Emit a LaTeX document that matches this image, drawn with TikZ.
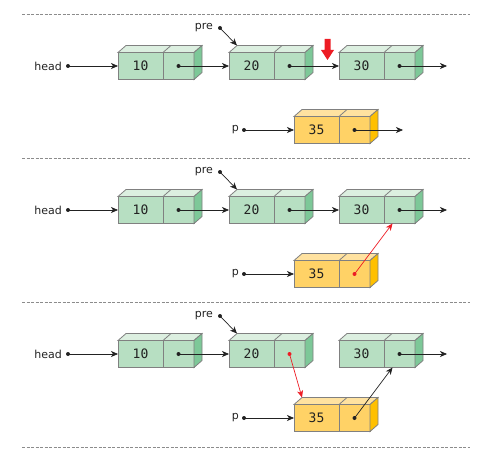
\documentclass[tikz,border=0pt]{standalone}
\usepackage{fontspec}
\setmainfont{DejaVu Sans}
\setmonofont{DejaVu Sans Mono}
\usetikzlibrary{positioning,arrows.meta}

\definecolor{gfront}{RGB}{183,223,194}
\definecolor{gtop}{RGB}{220,239,224}
\definecolor{gside}{RGB}{125,200,152}
\definecolor{yfront}{RGB}{255,210,102}
\definecolor{ytop}{RGB}{255,226,160}
\definecolor{yside}{RGB}{255,192,0}
\definecolor{hot}{RGB}{237,28,36}
\definecolor{ink}{RGB}{34,34,34}

\tikzset{
  face/.style={draw=black!50,line width=0.8bp},
  valcell/.style={face,minimum width=45bp,minimum height=27bp,inner sep=0pt,outer sep=0pt,
    font=\ttfamily\fontsize{13bp}{15bp}\selectfont,text=ink},
  ptrcell/.style={face,minimum width=31bp,minimum height=27bp,inner sep=0pt,outer sep=0pt},
  lbl/.style={font=\fontsize{11bp}{13bp}\selectfont,text=ink,inner sep=0pt},
  link/.style={-{Stealth[length=7bp,width=6bp,inset=2bp]},draw=ink,line width=0.7bp},
  hotlink/.style={-{Stealth[length=7bp,width=6bp,inset=2bp]},draw=hot,line width=0.7bp},
  sep/.style={draw=black!45,line width=0.6bp,dash pattern=on 3bp off 1.5bp}
}

% one list element: key, x, y, value, colour prefix
\newcommand{\listbox}[5]{%
  \node[valcell,fill=#5front,anchor=west] (val#1) at (#2,#3) {#4};
  \node[ptrcell,fill=#5front,anchor=west] (ptr#1) at (val#1.east) {};
  \filldraw[face,fill=#5top] (val#1.north west) -- ++(8,-7) -- ([shift={(8,-7)}]ptr#1.north east) -- (ptr#1.north east) -- cycle;
  \draw[face] (ptr#1.north west) -- ++(8,-7);
  \filldraw[face,fill=#5side] (ptr#1.north east) -- ++(8,-7) -- ++(0,27) -- (ptr#1.south east) -- cycle;
}

\begin{document}
\begin{tikzpicture}[x=1bp,y=-1bp]
  \useasboundingbox (0,0) rectangle (491,461);

  % separators
  \foreach \y in {14,158,302,447}
    \draw[sep] (22,\y) -- (470,\y);

  % the three steps
  \foreach \k/\off in {1/0,2/144,3/288} {
    \listbox{10-\k}{118}{66+\off}{10}{g}
    \listbox{20-\k}{229}{66+\off}{20}{g}
    \listbox{30-\k}{339}{66+\off}{30}{g}
    \listbox{35-\k}{294}{130+\off}{35}{y}

    % head, pre, p
    \node[lbl,anchor=east] (head-\k) at (62,66+\off) {head};
    \coordinate (hd-\k) at (68,66+\off);
    \node[lbl,anchor=east] (pre-\k) at (213,28+\off) {pre};
    \coordinate (pr-\k) at (220,28+\off);
    \node[lbl,anchor=east] (p-\k) at (239,130+\off) {p};
    \coordinate (pp-\k) at (244,130+\off);
    \coordinate (end-\k) at (447,66+\off);

    \fill[ink] (hd-\k) circle (2bp) (pr-\k) circle (2bp) (pp-\k) circle (2bp);
    \draw[link] (hd-\k) -- (val10-\k.west);
    \draw[link] (pr-\k) -- ([shift={(8,-7)}]val20-\k.north west);
    \draw[link] (pp-\k) -- (val35-\k.west);

    \fill[ink] (ptr10-\k.center) circle (2bp) (ptr30-\k.center) circle (2bp);
    \draw[link] (ptr10-\k.center) -- (val20-\k.west);
    \draw[link] (ptr30-\k.center) -- (end-\k);
  }

  % step 1
  \coordinate (out35) at (403,130);
  \fill[ink] (ptr20-1.center) circle (2bp) (ptr35-1.center) circle (2bp);
  \draw[link] (ptr20-1.center) -- (val30-1.west);
  \draw[link] (ptr35-1.center) -- (out35);
  \fill[hot] (324.5,39) -- (330.5,39) -- (330.5,50) -- (334,50) -- (327.5,60)
    -- (321,50) -- (324.5,50) -- cycle;

  % step 2
  \fill[ink] (ptr20-2.center) circle (2bp);
  \draw[link] (ptr20-2.center) -- (val30-2.west);
  \fill[hot] (ptr35-2.center) circle (2bp);
  \draw[hotlink] (ptr35-2.center) -- ([xshift=-7bp]ptr30-2.south);

  % step 3
  \fill[hot] (ptr20-3.center) circle (2bp);
  \draw[hotlink] (ptr20-3.center) -- ([shift={(8,-7)}]val35-3.north west);
  \fill[ink] (ptr35-3.center) circle (2bp);
  \draw[link] (ptr35-3.center) -- ([xshift=-7bp]ptr30-3.south);

\end{tikzpicture}
\end{document}
